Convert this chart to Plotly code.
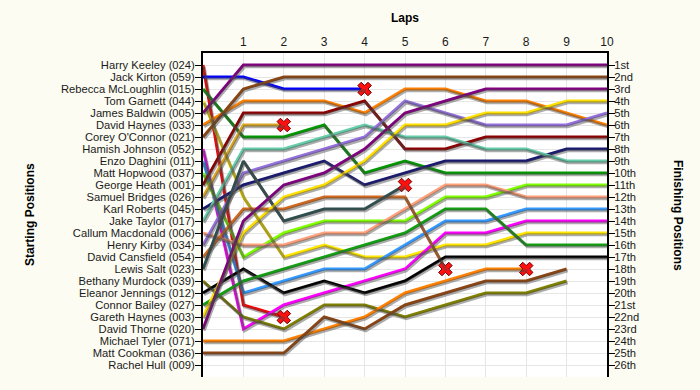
import plotly.graph_objects as go

# ---------------- data ----------------
laps = list(range(0, 11))
lap_labels = ["", "1", "2", "3", "4", "5", "6", "7", "8", "9", "10"]

names = [
    "Harry Keeley (024)", "Jack Kirton (059)", "Rebecca McLoughlin (015)",
    "Tom Garnett (044)", "James Baldwin (005)", "David Haynes (033)",
    "Corey O'Connor (021)", "Hamish Johnson (052)", "Enzo Daghini (011)",
    "Matt Hopwood (037)", "George Heath (001)", "Samuel Bridges (026)",
    "Karl Roberts (045)", "Jake Taylor (017)", "Callum Macdonald (006)",
    "Henry Kirby (034)", "David Cansfield (054)", "Lewis Salt (023)",
    "Bethany Murdock (039)", "Eleanor Jennings (012)", "Connor Bailey (027)",
    "Gareth Haynes (003)", "David Thorne (020)", "Michael Tyler (071)",
    "Matt Cookman (036)", "Rachel Hull (009)",
]

finish_labels = [
    "1st", "2nd", "3rd", "4th", "5th", "6th", "7th", "8th", "9th", "10th",
    "11th", "12th", "13th", "14th", "15th", "16th", "17th", "18th", "19th",
    "20th", "21st", "22nd", "23rd", "24th", "25th", "26th",
]

colors = [
    "#FF0000", "#0000FF", "#009A00", "#FFE600", "#800080", "#FF8000",
    "#8B4513", "#FF00FF", "#3399FF", "#80FF00", "#8B0000", "#DAA520",
    "#191970", "#66CDAA", "#FFA07A", "#9370DB", "#D2691E", "#2F4F4F",
    "#808000", "#000000", "#12A012", "#FFE000", "#800080", "#FF8000",
    "#8B4513", "#999999",
]

# position of each driver at the end of every lap (lap 0 = grid)
keeley = [1, 21, 22]
kirton = [2, 2, 3, 3, 3]
mcloughlin = [3, 7, 7, 6, 10, 9, 10, 10, 10, 10, 10]
garnett = [4, 12, 17, 16, 17, 17, 16, 16, 15, 15, 15]
baldwin = [5, 1, 1, 1, 1, 1, 1, 1, 1, 1, 1]
d_haynes = [6, 4, 4, 4, 5, 3, 3, 4, 4, 5, 6]
oconnor = [7, 3, 2, 2, 2, 2, 2, 2, 2, 2, 2]
johnson = [8, 23, 21, 20, 19, 18, 15, 15, 14, 14, 14]
daghini = [9, 20, 19, 18, 18, 16, 14, 14, 13, 13, 13]
hopwood = [10, 17, 15, 14, 14, 14, 12, 12, 11, 11, 11]
heath = [11, 5, 5, 5, 4, 8, 8, 7, 7, 7, 7]
bridges = [12, 6, 6]
roberts = [13, 11, 10, 9, 11, 10, 9, 9, 9, 8, 8]
taylor = [14, 8, 8, 7, 6, 7, 7, 8, 8, 9, 9]
macdonald = [15, 16, 16, 15, 15, 13, 11, 11, 12, 12, 12]
kirby = [16, 10, 9, 8, 7, 4, 5, 6, 6, 6, 5]
cansfield = [17, 13, 13, 12, 12, 12, 18]
salt = [18, 9, 14, 13, 13, 11]
murdock = [19, 22, 23, 21, 21, 22, 21, 20, 20, 19]
jennings = [20, 18, 20, 19, 20, 19, 17, 17, 17, 17, 17]
bailey = [21, 19, 18, 17, 16, 15, 13, 13, 16, 16, 16]
g_haynes = [22, 15, 12, 11, 9, 6, 6, 5, 5, 4, 4]
thorne = [23, 14, 11, 10, 8, 5, 4, 3, 3, 3, 3]
tyler = [24, 24, 24, 23, 22, 20, 19, 18, 18]
cookman = [25, 25, 25, 22, 23, 21, 20, 19, 19, 18]
hull = []

positions = [
    keeley, kirton, mcloughlin, garnett, baldwin, d_haynes, oconnor, johnson,
    daghini, hopwood, heath, bridges, roberts, taylor, macdonald, kirby,
    cansfield, salt, murdock, jennings, bailey, g_haynes, thorne, tyler,
    cookman, hull,
]

retired = [
    "Harry Keeley (024)", "Jack Kirton (059)", "Samuel Bridges (026)",
    "David Cansfield (054)", "Lewis Salt (023)", "Michael Tyler (071)",
]

# ---------------- figure ----------------
fig = go.Figure()

# drop shadows (same data, drawn on slightly shifted hidden axes)
for pos in positions:
    if not pos:
        continue
    fig.add_trace(go.Scatter(
        x=laps[:len(pos)], y=pos, mode="lines",
        line=dict(color="rgba(70,70,70,0.45)", width=3),
        xaxis="x2", yaxis="y2", hoverinfo="skip", showlegend=False,
    ))

for name, col, pos in zip(names, colors, positions):
    if not pos:
        continue
    fig.add_trace(go.Scatter(
        x=laps[:len(pos)], y=pos, mode="lines", name=name,
        line=dict(color=col, width=3), showlegend=False,
    ))

# retirement markers
for name, pos in zip(names, positions):
    if name in retired and pos:
        fig.add_trace(go.Scatter(
            x=[laps[len(pos) - 1]], y=[pos[-1]], mode="markers",
            marker=dict(symbol="x", size=12, color="#FF1010",
                        line=dict(color="#700000", width=1)),
            showlegend=False, hoverinfo="skip",
        ))

# dummy trace so the right axis is drawn
fig.add_trace(go.Scatter(x=[None], y=[None], yaxis="y3", showlegend=False))

W, H = 700, 390
L, R, T, B = 203, 93, 53, 13
pw = W - L - R
ph = H - T - B
dx = 1.2 / (pw / 10)    # shadow offset in data units
dy = 1.8 / (ph / 27)

font_main = "Arial, Liberation Sans, sans-serif"
tick_font = dict(family=font_main, size=11.2, color="#1a1a1a")

fig.update_layout(
    width=W, height=H,
    margin=dict(l=L, r=R, t=T, b=B, autoexpand=False),
    paper_bgcolor="#FCFCF2",
    plot_bgcolor="#FFFFFF",
    font=dict(family=font_main, size=12, color="#1a1a1a"),
    showlegend=False,
    xaxis=dict(
        range=[0, 10], side="top", tickvals=laps, ticktext=lap_labels,
        showgrid=True, gridcolor="#E6E6E6", gridwidth=1,
        showline=True, linecolor="black", linewidth=2, mirror=False,
        ticks="", zeroline=False, fixedrange=True, automargin=False,
        tickfont=dict(family=font_main, size=12, color="#1a1a1a"),
    ),
    yaxis=dict(
        range=[27, 0], tickvals=list(range(1, 27)), ticktext=names,
        showgrid=True, gridcolor="#E6E6E6", gridwidth=1,
        showline=True, linecolor="black", linewidth=2,
        ticks="outside", ticklen=6, tickcolor="black", tickwidth=1,
        zeroline=False, automargin=False, tickfont=tick_font,
        ticklabelstandoff=-2,
    ),
    xaxis2=dict(range=[0 - dx, 10 - dx], overlaying="x", visible=False),
    yaxis2=dict(range=[27 - dy, 0 - dy], overlaying="y", visible=False),
    yaxis3=dict(
        range=[27, 0], overlaying="y", side="right", anchor="x",
        tickvals=list(range(1, 27)), ticktext=finish_labels,
        showgrid=False, showline=True, linecolor="black", linewidth=2,
        ticks="outside", ticklen=6, tickcolor="black", tickwidth=1,
        zeroline=False, automargin=False, tickfont=tick_font,
        ticklabelstandoff=-3,
    ),
    annotations=[
        dict(text="<b>Laps</b>", xref="paper", yref="paper",
             x=0.5, y=1 + (T - 18) / ph, showarrow=False,
             font=dict(size=12, color="black"), xanchor="center", yanchor="middle"),
        dict(text="<b>Starting Positions</b>", xref="paper", yref="paper",
             x=(30 - L) / pw, y=0.5, showarrow=False, textangle=-90,
             font=dict(size=12, color="black"), xanchor="center", yanchor="middle"),
        dict(text="<b>Finishing Positions</b>", xref="paper", yref="paper",
             x=(678 - L) / pw, y=0.5, showarrow=False, textangle=90,
             font=dict(size=12, color="black"), xanchor="center", yanchor="middle"),
    ],
)

fig.write_html(
    "out.html",
    config={"displayModeBar": False},
    post_script="document.body.style.margin='0';"
                "document.body.style.background='#FCFCF2';",
)
